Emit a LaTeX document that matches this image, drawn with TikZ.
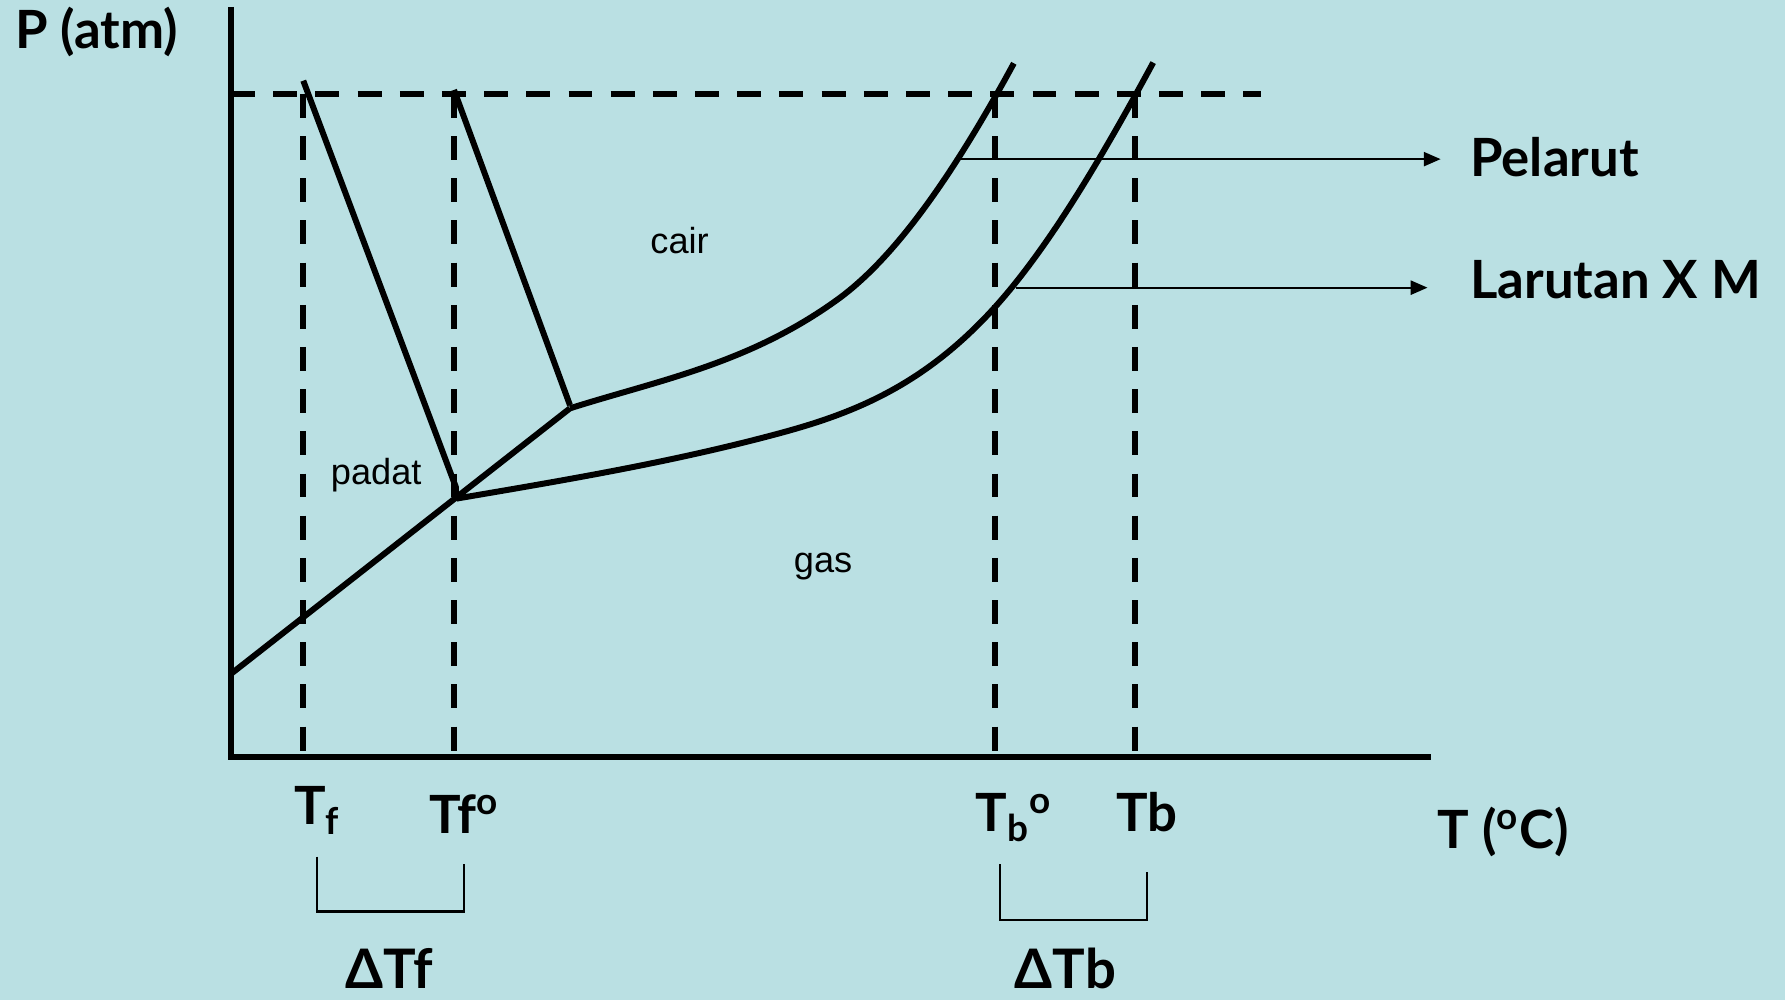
\documentclass[tikz,border=0pt]{standalone}
\usepackage{fontspec}
\setmainfont{Liberation Sans}
\newfontfamily\handfont{Lato}
\usepackage{tikz}
\usetikzlibrary{arrows.meta}
\definecolor{bgblue}{RGB}{186,224,227}

\begin{document}
\begin{tikzpicture}[x=0.011384cm, y=-0.011384cm,
  curve/.style={line width=1.7pt, line join=round},
  guide/.style={line width=1.6pt, dash pattern=on 6.8pt off 5.2pt},
  axis/.style={line width=1.9pt},
  pointer/.style={line width=0.65pt, -{Triangle[length=4.8pt, width=4pt]}},
  bracket/.style={line width=0.65pt},
  hand/.style={font=\handfont\bfseries\fontsize{15}{17}\selectfont, inner sep=0pt, anchor=base west},
  region/.style={font=\fontsize{10.3}{12}\selectfont, inner sep=0pt, anchor=base}]

  % ----- Background (fixes the page size) -----
  \fill[bgblue] (0,0) rectangle (1568,878);
  \useasboundingbox (0,0) rectangle (1568,878);

  % ----- Axes -----
  \coordinate (O) at (203,665);
  \draw[axis] (203,6) -- (O) -- (1257,665);
  \node[hand] (patm) at (13,42.4) {P (atm)};
  \node[hand] (tlabel) at (1262.3,745) {T (\textsuperscript{o}C)};

  % ----- Dashed guides: 1 atm and the four temperatures -----
  \draw[guide] (203,82.5) -- (1108,82.5);
  \foreach \x in {266,399,874,997}
    \draw[guide] (\x,82.5) -- (\x,663);

  % ----- Phase boundaries -----
  % sublimation line (shared)
  \draw[curve] (203.5,591.5) -- (500.7,358.7);
  % melting lines: solution (left) and solvent (right)
  \draw[curve] (266.4,70.9) -- (400.5,428) -- (400.5,438);
  \draw[curve] (398.8,79) -- (500.7,356);
  % vapour pressure curve of the solvent
  \draw[curve] (500.7,358.7) .. controls (578.9,333.9) and (657.2,319.7) .. (735.2,263.5)
    .. controls (787.2,226.1) and (838.6,151.3) .. (890.6,55.6);
  % vapour pressure curve of the solution
  \draw[curve] (401,438) .. controls (495.6,421.9) and (590.2,406.1) .. (684.8,380.6)
    .. controls (747.6,363.6) and (810.3,339.9) .. (873.1,270.8)
    .. controls (919.7,219.5) and (966.4,141.2) .. (1013,55);

  % ----- Region names -----
  \node[region] (cair) at (597,222.5) {cair};
  \node[region] (padat) at (330.5,426) {padat};
  \node[region] (gas) at (723,503) {gas};

  % ----- Curve labels with pointers -----
  \node[hand] (pelarut) at (1291,155.2) {Pelarut};
  \node[hand] (larutan) at (1291,262) {Larutan X M};
  \coordinate (pelarutfrom) at (843.6,139.8);
  \coordinate (pelaruttip) at (1265.5,139.8);
  \coordinate (larutanfrom) at (892.2,252.7);
  \coordinate (larutantip) at (1254,252.7);
  \draw[pointer] (pelarutfrom) -- (pelaruttip);
  \draw[pointer] (larutanfrom) -- (larutantip);

  % ----- Temperature labels -----
  \node[hand] (tf) at (257.7,724.7) {T\textsubscript{f}};
  \node[hand] (tfo) at (376.3,732) {Tf\textsuperscript{o}};
  \node[hand] (tbo) at (856.4,730.6) {T\textsubscript{b}\textsuperscript{o}};
  \node[hand] (tb) at (980,730.6) {Tb};

  % ----- Differences -----
  \draw[bracket] (278.2,752.5) -- (278.2,800.8) -- (407.6,800.8) -- (407.6,759.2);
  \draw[bracket] (878.3,759) -- (878.3,808.2) -- (1007.5,808.2) -- (1007.5,765.7);
  \node[hand, font=\handfont\bfseries\fontsize{15.5}{17}\selectfont] (dtf) at (303,868.5) {ΔTf};
  \node[hand, font=\handfont\bfseries\fontsize{15.5}{17}\selectfont] (dtb) at (890.8,868.5) {ΔTb};
\end{tikzpicture}
\end{document}
